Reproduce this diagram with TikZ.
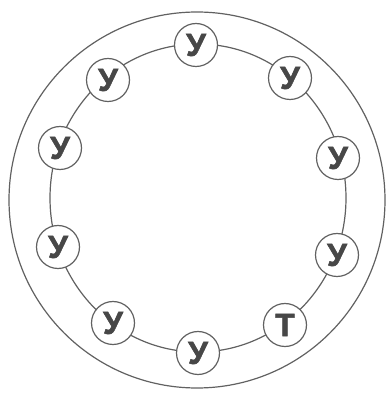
\documentclass[tikz,border=0pt]{standalone}
\usepackage{fontspec}
\newfontfamily\pbold[FakeBold=1.8]{Liberation Sans Bold}
\begin{document}
\begin{tikzpicture}[x=1pt,y=1pt,
  ring/.style={draw=black!62, line width=1.2pt},
  pupil/.style={circle, draw=black!62, line width=1.2pt, fill=white, minimum size=43pt, inner sep=0pt,
    font=\pbold\fontsize{32}{32}\selectfont, text=black!72}]
\useasboundingbox (0,0) rectangle (387,394);
\draw[ring] (197,194) circle (188);
\draw[ring] (198,196) ellipse (148 and 154);
\node[pupil] (n1) at (196,349) {У};
\node[pupil] (n2) at (290,316) {У};
\node[pupil] (n3) at (338,236) {У};
\node[pupil] (n4) at (337,139) {У};
\node[pupil] (n5) at (285,69) {Т};
\node[pupil] (n6) at (198,41) {У};
\node[pupil] (n7) at (113,71) {У};
\node[pupil] (n8) at (58,147) {У};
\node[pupil] (n9) at (60,246) {У};
\node[pupil] (n10) at (108,314) {У};
\end{tikzpicture}
\end{document}
